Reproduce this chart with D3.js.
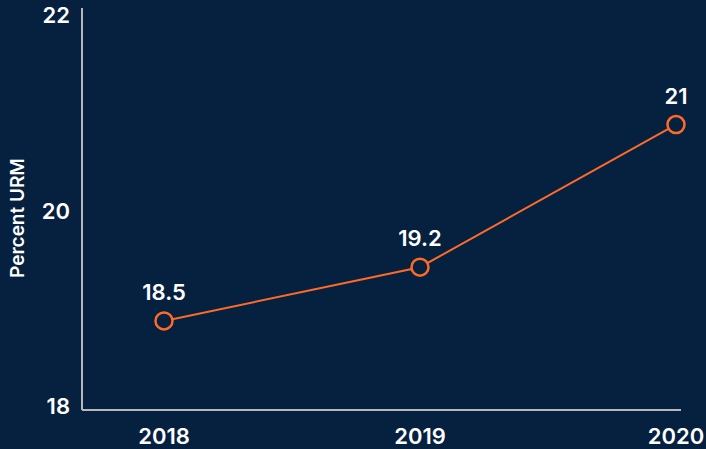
<!DOCTYPE html>
<html>
<head>
<meta charset="utf-8">
<script src="https://cdn.jsdelivr.net/npm/d3@7"></script>
<style>
  html, body { margin: 0; padding: 0; background: #062040; }
  svg { display: block; }
  text { font-family: Inter, "Open Sans", sans-serif; fill: #ffffff; }
</style>
</head>
<body>
<div id="chart"></div>
<script>
// Data
const years = [2018, 2019, 2020];
const values = [18.88, 19.43, 20.89];   // plotted positions
const labels = ["18.5", "19.2", "21"];   // printed point labels
const yTicks = [18, 20, 22];

const width = 706, height = 449;
const bg = "#062040";
const orange = "#ff6a26";

const svg = d3.select("#chart").append("svg")
    .attr("width", width)
    .attr("height", height);

svg.append("rect")
    .attr("width", width)
    .attr("height", height)
    .attr("fill", bg);

const x = d3.scaleLinear()
    .domain([2018, 2020])
    .range([164, 676]);

const y = d3.scaleLinear()
    .domain([18, 22])
    .range([407, 16]);

// axis lines
svg.append("line")
    .attr("x1", 82).attr("x2", 82)
    .attr("y1", 8).attr("y2", 410)
    .attr("stroke", "#b8b8b8").attr("stroke-width", 2);

svg.append("line")
    .attr("x1", 82).attr("x2", 681)
    .attr("y1", 410).attr("y2", 410)
    .attr("stroke", "#b8b8b8").attr("stroke-width", 2);

// y tick labels
svg.selectAll("text.ytick")
    .data(yTicks)
    .enter()
    .append("text")
    .attr("class", "ytick")
    .attr("x", 70)
    .attr("y", d => y(d) + 1)
    .attr("text-anchor", "end")
    .attr("dominant-baseline", "middle")
    .attr("font-size", 22)
    .attr("font-weight", 600)
    .text(d => d);

// x tick labels
svg.selectAll("text.xtick")
    .data(years)
    .enter()
    .append("text")
    .attr("class", "xtick")
    .attr("x", d => x(d))
    .attr("y", 444)
    .attr("text-anchor", "middle")
    .attr("font-size", 22)
    .attr("font-weight", 600)
    .text(d => d);

// y axis title
svg.append("text")
    .attr("transform", "translate(24,218) rotate(-90)")
    .attr("text-anchor", "middle")
    .attr("font-size", 19)
    .attr("font-weight", 600)
    .text("Percent URM");

const pts = years.map((yr, i) => ({year: yr, value: values[i], label: labels[i]}));

const line = d3.line()
    .x(d => x(d.year))
    .y(d => y(d.value));

svg.append("path")
    .datum(pts)
    .attr("d", line)
    .attr("fill", "none")
    .attr("stroke", orange)
    .attr("stroke-width", 2);

svg.selectAll("circle.pt")
    .data(pts)
    .enter()
    .append("circle")
    .attr("class", "pt")
    .attr("cx", d => x(d.year))
    .attr("cy", d => y(d.value))
    .attr("r", 8.5)
    .attr("fill", bg)
    .attr("stroke", orange)
    .attr("stroke-width", 2.5);

svg.selectAll("text.lbl")
    .data(pts)
    .enter()
    .append("text")
    .attr("class", "lbl")
    .attr("x", d => x(d.year))
    .attr("y", d => y(d.value) - 21)
    .attr("text-anchor", "middle")
    .attr("font-size", 22)
    .attr("font-weight", 600)
    .text(d => d.label);
</script>
</body>
</html>
